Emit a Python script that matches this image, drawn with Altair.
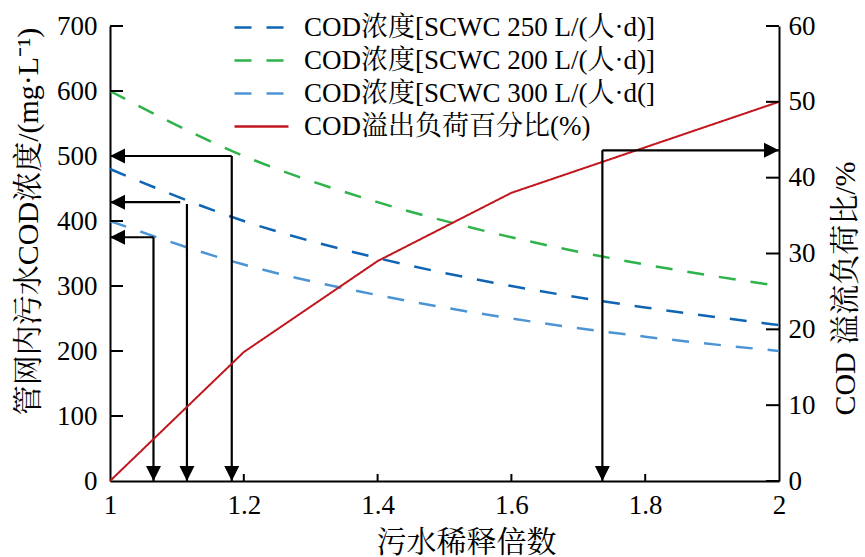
import altair as alt
import pandas as pd

# ---------------- data ----------------
x_vals = [1.0, 1.2, 1.4, 1.6, 1.8, 2.0]
cod_250 = [480, 400, 343, 300, 267, 240]
cod_200 = [600, 500, 429, 375, 333, 300]
cod_300 = [400, 333, 286, 250, 222, 200]
overflow_pct = [0, 17, 29, 38, 44, 50]

series_names = [
    "COD浓度[SCWC 250 L/(人·d)]",
    "COD浓度[SCWC 200 L/(人·d)]",
    "COD浓度[SCWC 300 L/(人·d(]",
    "COD溢出负荷百分比(%)",
]
series_colors = ["#0f64b4", "#2db34a", "#4d94d4", "#c0171f"]

# guide arrows read against the left axis
arrow_x = [1.065, 1.115, 1.182]
arrow_v_top = [375, 426, 500]
arrow_h_level = [375, 429, 500]
arrow_h_end = [1.065, 1.105, 1.182]
# guide arrow read against the right axis
arrow_r_x = [1.736]
arrow_r_level = [43.6]

x_ticks = [1, 1.2, 1.4, 1.6, 1.8, 2]
x_minor_ticks = [1.2, 1.4, 1.6, 1.8]
left_ticks = [100, 200, 300, 400, 500, 600, 700]
right_ticks = [0, 10, 20, 30, 40, 50, 60]

# ---------------- layout / style ----------------
W, H = 669, 455
FONT = "'Liberation Serif', 'Times New Roman', 'Noto Serif CJK SC', 'Noto Sans CJK SC', serif"
TICK_X_LEN = 13 / W          # inward y-axis tick length in x data units
TICK_Y_LEN = 7 / H * 700     # inward x-axis tick length in left-y data units
DASH = [17, 15]
LW = 2.2

conc_df = pd.DataFrame({
    "x": x_vals * 3,
    "y": cod_250 + cod_200 + cod_300,
    "series": [series_names[0]] * 6 + [series_names[1]] * 6 + [series_names[2]] * 6,
})
red_df = pd.DataFrame({"x": x_vals, "y": overflow_pct, "series": [series_names[3]] * 6})

lt_df = pd.DataFrame({"y": left_ticks, "x": [1.0] * len(left_ticks)})
lt_df["x2"] = lt_df["x"] + TICK_X_LEN
rt_df = pd.DataFrame({"y": right_ticks, "x2": [2.0] * len(right_ticks)})
rt_df["x"] = rt_df["x2"] - TICK_X_LEN
xt_df = pd.DataFrame({"x": x_minor_ticks, "y": [0.0] * len(x_minor_ticks)})
xt_df["y2"] = xt_df["y"] + TICK_Y_LEN

v_df = pd.DataFrame({"x": arrow_x, "y": arrow_v_top, "y2": [0] * 3})
h_df = pd.DataFrame({"x": [1.0] * 3, "x2": arrow_h_end, "y": arrow_h_level})
down_df = pd.DataFrame({"x": arrow_x, "y": [0] * 3})
left_df = pd.DataFrame({"x": [1.0] * 3, "y": arrow_h_level})

rv_df = pd.DataFrame({"x": arrow_r_x, "y": arrow_r_level, "y2": [0]})
rh_df = pd.DataFrame({"x": arrow_r_x, "x2": [2.0], "y": arrow_r_level})
rdown_df = pd.DataFrame({"x": arrow_r_x, "y": [0]})
rright_df = pd.DataFrame({"x": [2.0], "y": arrow_r_level})

x_axis = alt.Axis(values=x_ticks, format="~g", title="污水稀释倍数", labelPadding=11,
                  labelFlush=False,
                  titleX=356, titleY=61, titleAlign="center", titleBaseline="middle")
X = alt.X("x:Q", scale=alt.Scale(domain=[1, 2], nice=False, zero=False), axis=x_axis)

yl_axis = alt.Axis(values=[0] + left_ticks, title="管网内污水COD浓度/(mg·L⁻¹)", orient="left",
                   labelPadding=13, labelFlush=False, titleX=-82, titleY=195, titleAngle=270,
                   titleAlign="center", titleBaseline="middle")
YL = alt.Y("y:Q", scale=alt.Scale(domain=[0, 700], nice=False), axis=yl_axis)

yr_axis = alt.Axis(values=right_ticks, title="COD 溢流负荷比/%", orient="right",
                   labelPadding=9, labelFlush=False, titleX=66, titleY=262, titleAngle=270,
                   titleAlign="center", titleBaseline="middle")
YR = alt.Y("y:Q", scale=alt.Scale(domain=[0, 60], nice=False), axis=yr_axis)

legend = alt.Legend(title=None, orient="none", legendX=123, legendY=-14,
                    symbolType="stroke", symbolSize=2916, symbolStrokeWidth=2.5,
                    clipHeight=31, rowPadding=2, labelFont=FONT, labelFontSize=27,
                    labelLimit=700, labelOffset=14, labelColor="black")
COLOR = alt.Color("series:N", scale=alt.Scale(domain=series_names, range=series_colors), legend=legend)
DASHENC = alt.StrokeDash("series:N", scale=alt.Scale(domain=series_names, range=[DASH, DASH, DASH, [1, 0]]),
                         legend=legend)

head_common = dict(size=225, filled=True, color="black", opacity=1, strokeWidth=0)
SHAPE_DOWN = "M0,0L-1,-2L1,-2Z"
SHAPE_LEFT = "M0,0L2,-1L2,1Z"
SHAPE_RIGHT = "M0,0L-2,-1L-2,1Z"

conc_lines = alt.Chart(conc_df).mark_line(strokeWidth=2.5, interpolate="monotone").encode(
    x=X, y=YL, color=COLOR, strokeDash=DASHENC)
lt_rules = alt.Chart(lt_df).mark_rule(color="black", strokeWidth=2).encode(x=X, x2="x2:Q", y=YL)
xt_rules = alt.Chart(xt_df).mark_rule(color="black", strokeWidth=2).encode(x=X, y=YL, y2="y2:Q")
v_rules = alt.Chart(v_df).mark_rule(color="black", strokeWidth=LW).encode(x=X, y=YL, y2="y2:Q")
h_rules = alt.Chart(h_df).mark_rule(color="black", strokeWidth=LW).encode(x=X, x2="x2:Q", y=YL)
down_heads = alt.Chart(down_df).mark_point(shape=SHAPE_DOWN, **head_common).encode(x=X, y=YL)
left_heads = alt.Chart(left_df).mark_point(shape=SHAPE_LEFT, **head_common).encode(x=X, y=YL)

left_group = alt.layer(conc_lines, lt_rules, xt_rules, v_rules, h_rules, down_heads, left_heads)

red_line = alt.Chart(red_df).mark_line(strokeWidth=2).encode(
    x=X, y=YR, color=COLOR, strokeDash=DASHENC)
rt_rules = alt.Chart(rt_df).mark_rule(color="black", strokeWidth=2).encode(x=X, x2="x2:Q", y=YR)
rv_rules = alt.Chart(rv_df).mark_rule(color="black", strokeWidth=LW).encode(x=X, y=YR, y2="y2:Q")
rh_rules = alt.Chart(rh_df).mark_rule(color="black", strokeWidth=LW).encode(x=X, x2="x2:Q", y=YR)
rdown_heads = alt.Chart(rdown_df).mark_point(shape=SHAPE_DOWN, **head_common).encode(x=X, y=YR)
rright_heads = alt.Chart(rright_df).mark_point(shape=SHAPE_RIGHT, **head_common).encode(x=X, y=YR)

right_group = alt.layer(red_line, rt_rules, rv_rules, rh_rules, rdown_heads, rright_heads)

chart = alt.layer(left_group, right_group).resolve_scale(y="independent").properties(
    width=W, height=H,
    autosize=alt.AutoSizeParams(type="none"),
    padding={"left": 110, "top": 26, "right": 86, "bottom": 76},
    background="white",
).configure_view(stroke=None).configure_axis(
    labelFont=FONT, labelFontSize=27, labelColor="black",
    titleFont=FONT, titleFontSize=30, titleColor="black", titleFontWeight="normal",
    domainColor="black", domainWidth=2, tickSize=0, grid=False,
)

chart.save("out.html", embed_options={"renderer": "svg", "actions": False})
